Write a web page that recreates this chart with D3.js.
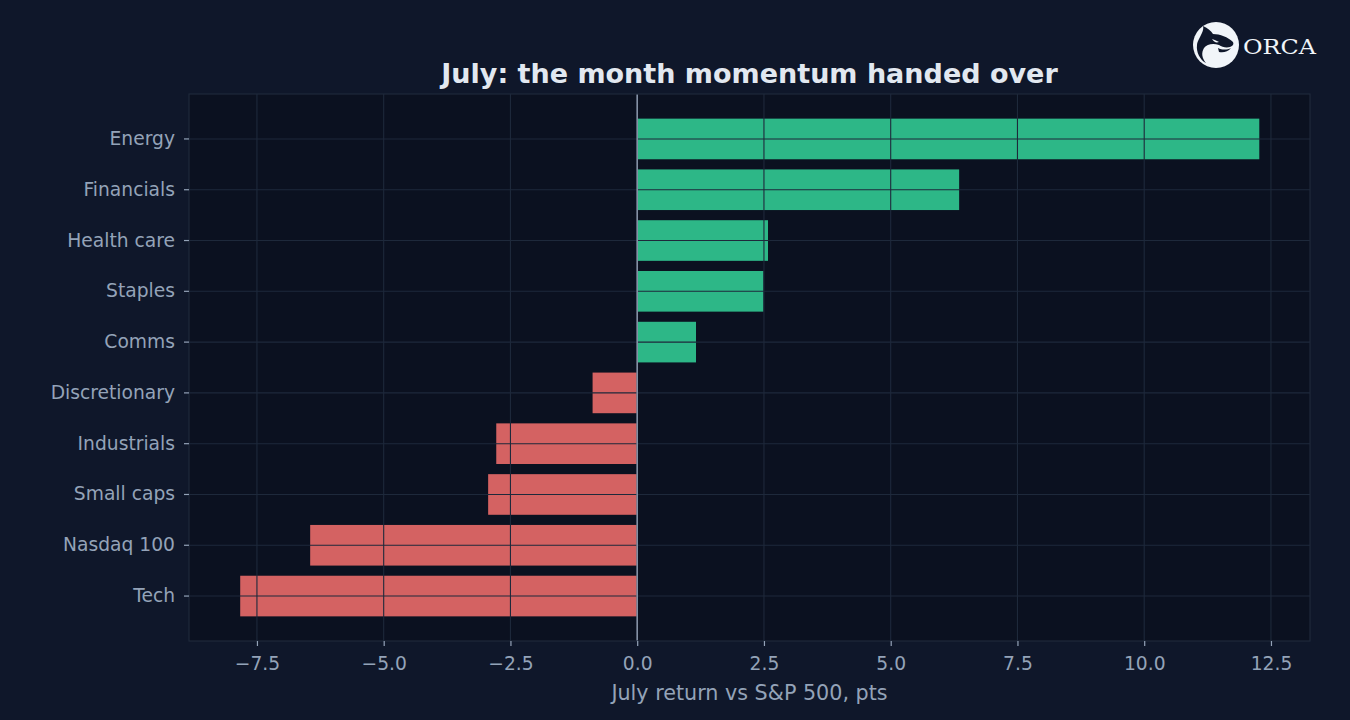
<!DOCTYPE html>
<html>
<head>
<meta charset="utf-8">
<script src="https://cdn.jsdelivr.net/npm/d3@7"></script>
<style>
  html, body { margin: 0; padding: 0; background: #0f172a; }
  svg { display: block; }
</style>
</head>
<body>
<svg id="chart" width="1350" height="720"></svg>
<script>
const categories = ["Energy", "Financials", "Health care", "Staples", "Comms", "Discretionary", "Industrials", "Small caps", "Nasdaq 100", "Tech"];
const values = [12.27, 6.35, 2.58, 2.49, 1.16, -0.88, -2.78, -2.94, -6.45, -7.83];
const xTicks = [-7.5, -5, -2.5, 0, 2.5, 5, 7.5, 10, 12.5];
const xDomain = [-8.84, 13.27];
const titleText = "July: the month momentum handed over";
const xLabel = "July return vs S&P 500, pts";

const W = 1350, H = 720;
const m = { left: 189, right: 1310, top: 94, bottom: 641 };
const svg = d3.select("#chart");
svg.append("rect").attr("width", W).attr("height", H).attr("fill", "#0f172a");

const x = d3.scaleLinear().domain(xDomain).range([m.left, m.right]);
const y = d3.scaleBand().domain(categories).range([m.top, m.bottom])
  .paddingInner(0.2).paddingOuter(0.485);

// plot background
svg.append("rect").attr("x", m.left).attr("y", m.top)
  .attr("width", m.right - m.left).attr("height", m.bottom - m.top)
  .attr("fill", "#0b1120");

// bars
svg.append("g").selectAll("rect").data(categories).join("rect")
  .attr("x", (d, i) => Math.min(x(0), x(values[i])))
  .attr("y", d => y(d))
  .attr("width", (d, i) => Math.abs(x(values[i]) - x(0)))
  .attr("height", y.bandwidth())
  .attr("fill", (d, i) => values[i] >= 0 ? "#2db787" : "#d46262");

// grid (drawn above bars)
const grid = svg.append("g");
grid.selectAll("line.v").data(xTicks).join("line")
  .attr("x1", d => x(d)).attr("x2", d => x(d))
  .attr("y1", m.top).attr("y2", m.bottom)
  .attr("stroke", "#1e293b").attr("stroke-width", 1.1);
grid.selectAll("line.h").data(categories).join("line")
  .attr("x1", m.left).attr("x2", m.right)
  .attr("y1", d => y(d) + y.bandwidth() / 2).attr("y2", d => y(d) + y.bandwidth() / 2)
  .attr("stroke", "#1e293b").attr("stroke-width", 1.1);

// zero line
svg.append("line").attr("x1", x(0)).attr("x2", x(0))
  .attr("y1", m.top).attr("y2", m.bottom)
  .attr("stroke", "#8591a5").attr("stroke-width", 1.6);

// frame
svg.append("rect").attr("x", m.left).attr("y", m.top)
  .attr("width", m.right - m.left).attr("height", m.bottom - m.top)
  .attr("fill", "none").attr("stroke", "#1e293b").attr("stroke-width", 1.2);

// axes
const fmt = d3.format(".1f");
const xAxis = svg.append("g").attr("transform", `translate(0,${m.bottom})`)
  .call(d3.axisBottom(x).tickValues(xTicks).tickFormat(fmt).tickSize(5).tickPadding(6));
const yAxis = svg.append("g").attr("transform", `translate(${m.left},0)`)
  .call(d3.axisLeft(y).tickSize(5).tickPadding(9));
[xAxis, yAxis].forEach(a => {
  a.select(".domain").remove();
  a.selectAll(".tick line").attr("stroke", "#94a3b8").attr("stroke-width", 1.2);
  a.selectAll(".tick text").attr("fill", "#94a3b8")
    .style("font-family", "DejaVu Sans").style("font-size", "18.7px");
});
xAxis.selectAll(".tick text").attr("dy", "0.95em");

// labels
svg.append("text").attr("x", (m.left + m.right) / 2).attr("y", 73)
  .attr("text-anchor", "middle").attr("dominant-baseline", "central")
  .attr("fill", "#e2e8f0").style("font-family", "DejaVu Sans")
  .style("font-weight", "bold").style("font-size", "27px").text(titleText);
svg.append("text").attr("x", (m.left + m.right) / 2).attr("y", 693)
  .attr("text-anchor", "middle").attr("dominant-baseline", "central")
  .attr("fill", "#94a3b8").style("font-family", "DejaVu Sans")
  .style("font-size", "20.7px").text(xLabel);

// logo
const logo = svg.append("g").attr("transform", "translate(1216,45)");
logo.append("circle").attr("r", 23).attr("fill", "#f1f5f9");
logo.append("path")
  .attr("d", "M-17,-6 C-14,-12 -12,-15 -13,-19 C-8,-17 -5,-14 -3,-11 C4,-11 12,-8 17,-3 C18,-1 17,1 14,2 C10,3 6,2 3,0 C-3,-2 -9,-1 -12,3 C-15,8 -14,13 -10,18 C-16,15 -20,7 -19,0 C-19,-2 -18,-4 -17,-6 Z")
  .attr("fill", "#0f172a");
logo.append("path")
  .attr("d", "M2,3 C6,5 11,5 15,3 C12,7 7,8 3,7 Z")
  .attr("fill", "#0f172a");
logo.append("path")
  .attr("d", "M-4,-6 C-1,-5 1,-4 3,-3 C0,-2 -2,-3 -4,-6 Z")
  .attr("fill", "#f1f5f9");
svg.append("text").attr("x", 1243).attr("y", 54)
  .attr("fill", "#f1f5f9").style("font-family", "DejaVu Serif")
  .style("font-size", "21px").attr("textLength", 73).attr("lengthAdjust", "spacingAndGlyphs")
  .text("ORCA");
</script>
</body>
</html>
